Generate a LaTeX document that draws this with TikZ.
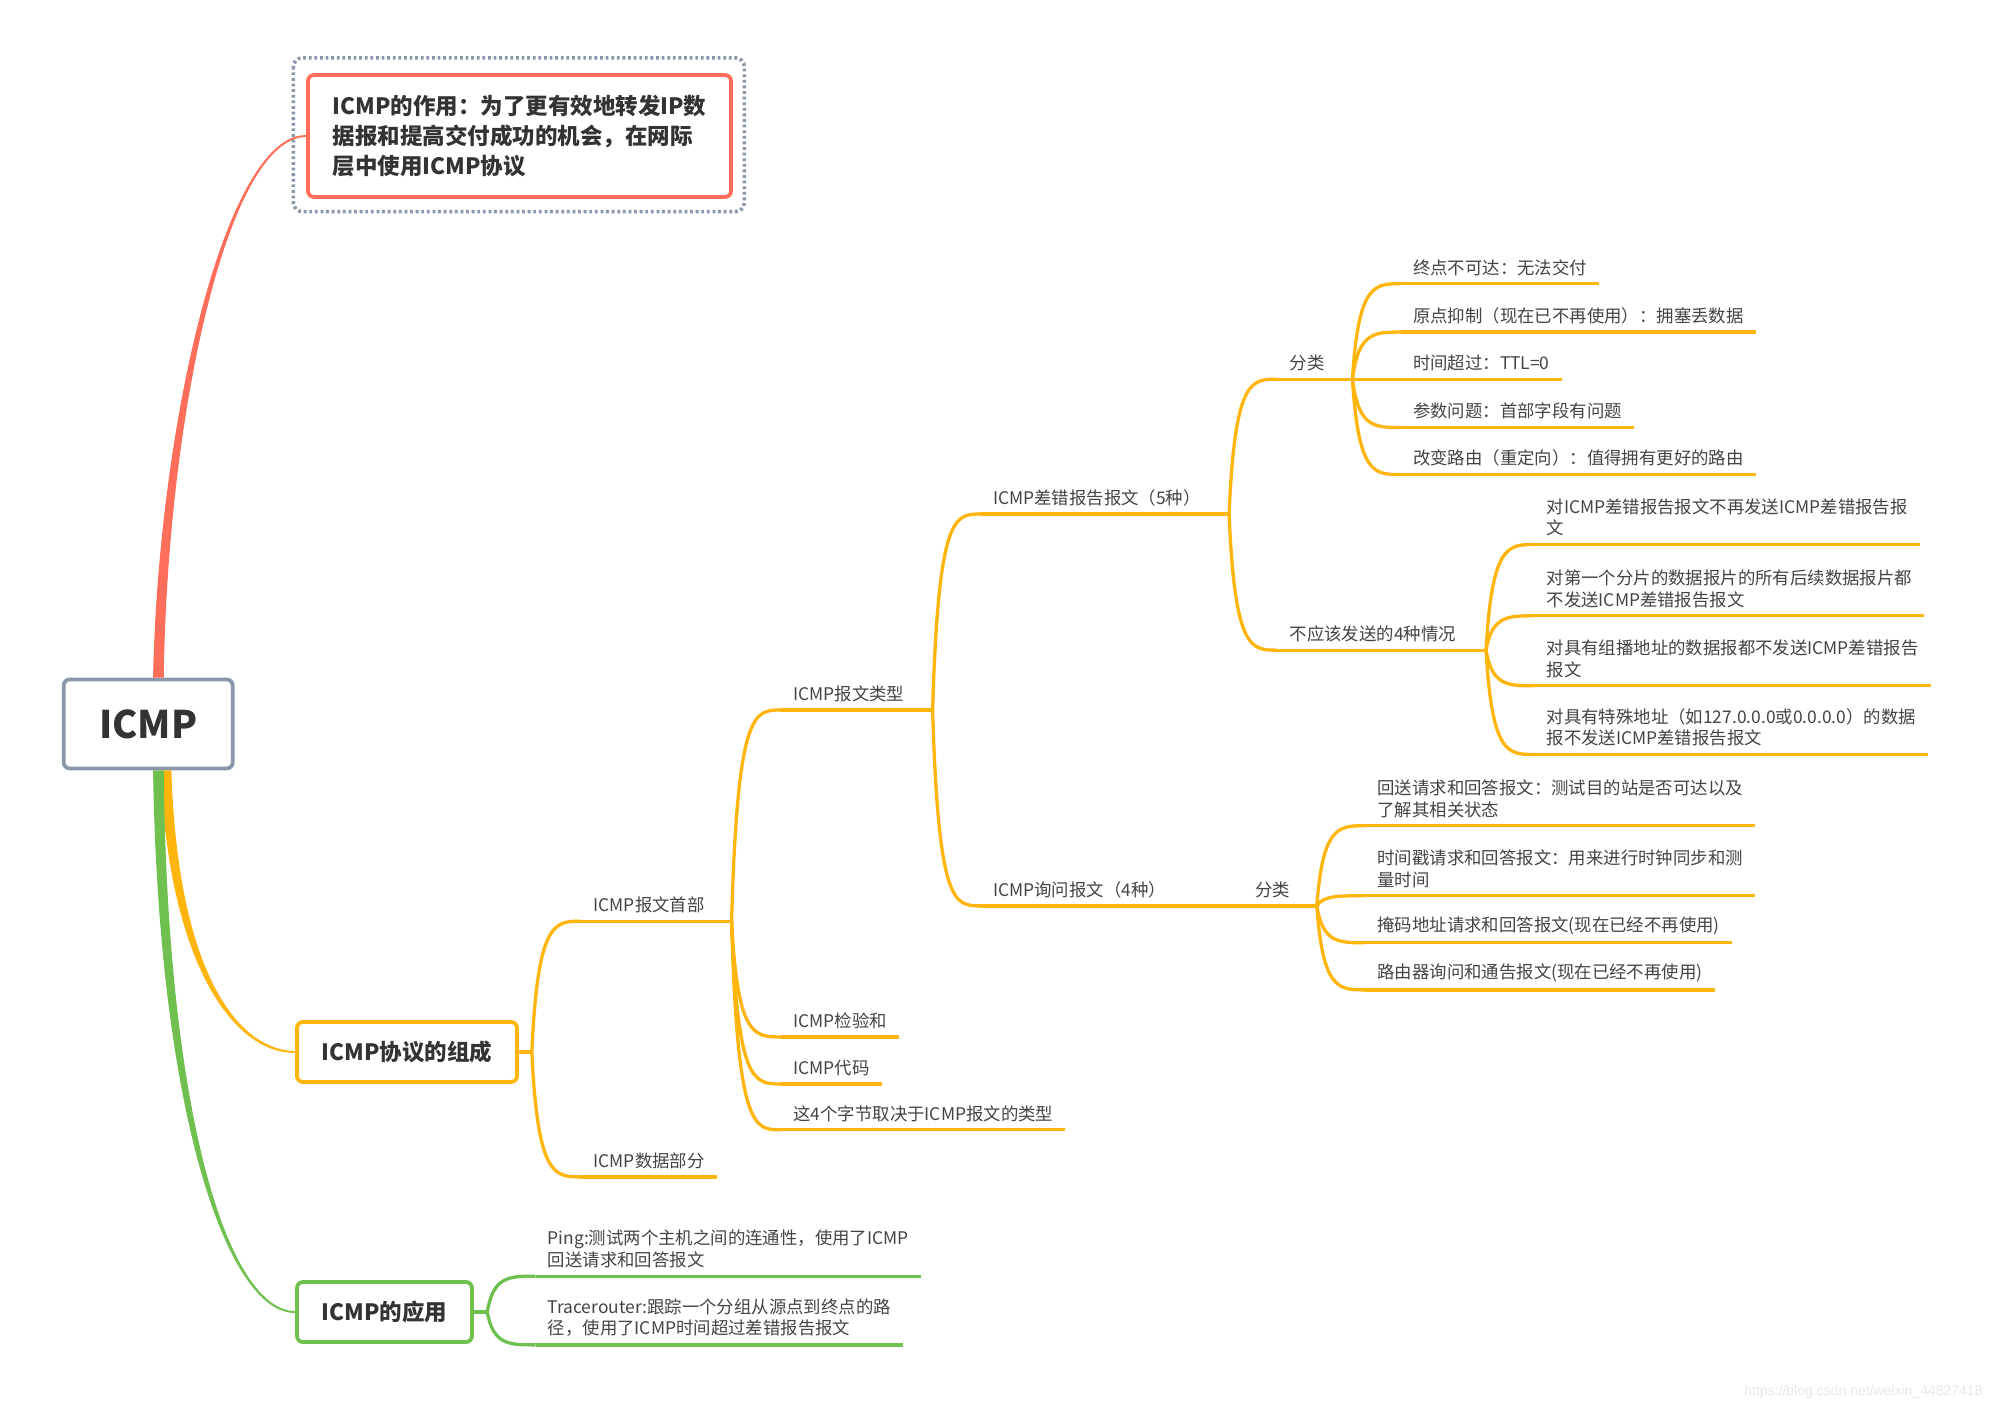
\documentclass[tikz,border=0pt]{standalone}
\usepackage{fontspec}
\usepackage{tikz}
\usetikzlibrary{calc}
\newfontfamily\cjk{Noto Sans CJK SC}
\newfontfamily\wmfont{Liberation Sans}
\definecolor{mapred}{RGB}{255,110,90}
\definecolor{maporange}{RGB}{255,181,12}
\definecolor{mapgreen}{RGB}{112,192,80}
\definecolor{mapgray}{RGB}{138,150,170}
\definecolor{boxtext}{RGB}{51,51,51}
\definecolor{toptext}{RGB}{68,68,68}
\newcommand{\branchto}[3]{\draw[#1] let \p1=(#2), \p2=(#3) in (\p1) .. controls ({\x1+0.12*(\x2-\x1)},\y2) and ({\x1+0.45*(\x2-\x1)},\y2) .. (\p2);}
\newcommand{\taper}[6]{\fill[#1] ($(#2)+({-(#6)},0)$) .. controls ($(#3)+({-0.8*(#6)},0)$) and ($(#4)+(0,-1.6)$) .. ($(#5)+(0,-0.7)$) -- ($(#5)+(0,0.7)$) .. controls ($(#4)+(0,1.6)$) and ($(#3)+({0.8*(#6)},0)$) .. ($(#2)+(#6,0)$) -- cycle;}

\begin{document}
\begin{tikzpicture}[x=1.2723pt,y=-1.2723pt,
    box/.style={rectangle,rounded corners=6pt,line width=3.8pt,fill=white,inner sep=0pt,
        text=boxtext,font=\cjk\bfseries\fontsize{22.5}{30}\selectfont},
    topic/.style={anchor=south west,inner xsep=12pt,inner ysep=8pt,align=left,
        text=toptext,font=\cjk\fontsize{17.4}{21.6}\selectfont},
    obr/.style={draw=maporange,line width=3.3pt},
    gbr/.style={draw=mapgreen,line width=3.3pt}]
    \path[use as bounding box,fill=white] (0,0) rectangle (1568,1108);

    %central topic and main boxes
    \node[box,draw=mapgray,minimum width=169pt,minimum height=89pt,
        font=\cjk\bfseries\fontsize{38}{38}\selectfont] (root) at (116.5,569) {ICMP};
    \node[box,draw=mapred,align=left,minimum width=423pt,minimum height=122pt] (role) at (408.3,106.9)
        {ICMP的作用：为了更有效地转发IP数\\据报和提高交付成功的机会，在网际\\层中使用ICMP协议};
    \draw[mapgray,line width=3.6pt,dash pattern=on 2.8pt off 2.8pt,rounded corners=9pt]
        ($(role.north west)+(-10,-12)$) rectangle ($(role.south east)+(9,10)$);
    \node[box,draw=maporange,minimum width=220pt,minimum height=60pt] (comp) at (319.9,826.8) {ICMP协议的组成};
    \node[box,draw=mapgreen,minimum width=175pt,minimum height=60pt] (app) at (302.2,1031.2) {ICMP的应用};

    %main branches
    \coordinate (r-up) at ($(root.north)+(8,0)$);
    \coordinate (r-or) at ($(root.south)+(14,0)$);
    \coordinate (r-gr) at ($(root.south)+(8,0)$);
    \taper{mapred}{r-up}{128,330}{178,107}{role.west}{4.2}
    \taper{maporange}{r-or}{136,760}{185,826.8}{comp.west}{-4.2}
    \taper{mapgreen}{r-gr}{128,880}{180,1031.2}{app.west}{-4.2}

    %split points
    \coordinate (comp-x) at (418,826.8);
    \coordinate (app-x) at (383,1031.2);
    \coordinate (hdr-x) at (575,724);
    \coordinate (mtype-x) at (733,558);
    \coordinate (err-x) at (966,404);
    \coordinate (qry-x) at (935,712);
    \coordinate (ecls-x) at (1063,298);
    \coordinate (nosend-x) at (1168,511);
    \coordinate (qcls-x) at (1035,712);

    %protocol parts
    \node[topic] (hdr) at (457,724) {ICMP报文首部};
    \node[topic] (data) at (457,925) {ICMP数据部分};
    \node[topic] (mtype) at (614,558) {ICMP报文类型};
    \node[topic] (chk) at (614,815) {ICMP检验和};
    \node[topic] (code) at (614,852) {ICMP代码};
    \node[topic] (rest) at (614,888) {这4个字节取决于ICMP报文的类型};
    \node[topic] (err) at (771,404) {ICMP差错报告报文（5种）};
    \node[topic] (qry) at (771,712) {ICMP询问报文（4种）};
    \node[topic] (ecls) at (1004,298) {分类};
    \node[topic] (nosend) at (1004,511) {不应该发送的4种情况};
    \node[topic] (e1) at (1101,223) {终点不可达：无法交付};
    \node[topic] (e2) at (1101,261) {原点抑制（现在已不再使用）：拥塞丢数据};
    \node[topic] (e3) at (1101,298) {时间超过：TTL=0};
    \node[topic] (e4) at (1101,336) {参数问题：首部字段有问题};
    \node[topic] (e5) at (1101,373) {改变路由（重定向）：值得拥有更好的路由};
    \node[topic] (n1) at (1206,428) {对ICMP差错报告报文不再发送ICMP差错报告报\\文};
    \node[topic] (n2) at (1206,484) {对第一个分片的数据报片的所有后续数据报片都\\不发送ICMP差错报告报文};
    \node[topic] (n3) at (1206,539) {对具有组播地址的数据报都不发送ICMP差错报告\\报文};
    \node[topic] (n4) at (1206,593) {对具有特殊地址（如127.0.0.0或0.0.0.0）的数据\\报不发送ICMP差错报告报文};
    \node[topic] (qcls) at (977,712) {分类};
    \node[topic] (q1) at (1073,649) {回送请求和回答报文：测试目的站是否可达以及\\了解其相关状态};
    \node[topic] (q2) at (1073,704) {时间戳请求和回答报文：用来进行时钟同步和测\\量时间};
    \node[topic] (q3) at (1073,741) {掩码地址请求和回答报文(现在已经不再使用)};
    \node[topic] (q4) at (1073,778) {路由器询问和通告报文(现在已经不再使用)};

    %applications
    \node[topic] (ping) at (421,1003) {Ping:测试两个主机之间的连通性，使用了ICMP\\回送请求和回答报文};
    \node[topic] (trace) at (421,1057) {Tracerouter:跟踪一个分组从源点到终点的路\\径，使用了ICMP时间超过差错报告报文};

    %connectors
    \draw[obr,line width=3.8pt] (comp.east) -- (comp-x);
    \draw[gbr,line width=3.8pt] (app.east) -- (app-x);
    \foreach \from/\to in {comp-x/hdr,comp-x/data,hdr-x/mtype,hdr-x/chk,hdr-x/code,hdr-x/rest,
        mtype-x/err,mtype-x/qry,err-x/ecls,err-x/nosend,ecls-x/e1,ecls-x/e2,ecls-x/e3,ecls-x/e4,ecls-x/e5,
        nosend-x/n1,nosend-x/n2,nosend-x/n3,nosend-x/n4,qry-x/qcls,qcls-x/q1,qcls-x/q2,qcls-x/q3,qcls-x/q4}
        {\branchto{obr}{\from}{\to.south west}}
    \foreach \from/\to in {app-x/ping,app-x/trace}
        {\branchto{gbr}{\from}{\to.south west}}
    \foreach \n in {hdr,mtype,err,qry,ecls,nosend,qcls}
        {\draw[obr] (\n.south west) -- (\n-x);}
    \foreach \n in {data,chk,code,rest,e1,e2,e3,e4,e5,n1,n2,n3,n4,q1,q2,q3,q4}
        {\draw[obr] (\n.south west) -- (\n.south east);}
    \foreach \n in {ping,trace}
        {\draw[gbr] (\n.south west) -- (\n.south east);}

    \node[anchor=east,text=black!9,font=\wmfont\fontsize{14}{14}\selectfont] (mark) at (1561,1094)
        {https://blog.csdn.net/weixin\_44827418};
\end{tikzpicture}
\end{document}
